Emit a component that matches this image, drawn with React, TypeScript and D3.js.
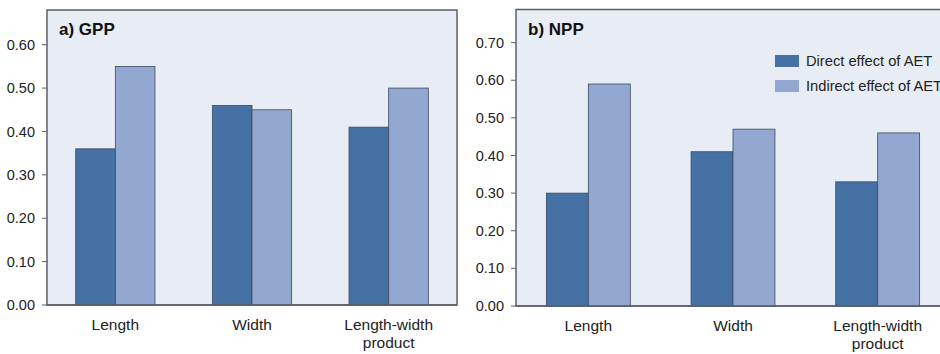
import React from "react";
import * as d3 from "d3";

const categories = ["Length", "Width", "Length-width product"];
const seriesNames = ["Direct effect of AET", "Indirect effect of AET"];
const gppDirect = [0.36, 0.46, 0.41];
const gppIndirect = [0.55, 0.45, 0.5];
const nppDirect = [0.3, 0.41, 0.33];
const nppIndirect = [0.59, 0.47, 0.46];
const gppTicks = [0, 0.1, 0.2, 0.3, 0.4, 0.5, 0.6];
const nppTicks = [0, 0.1, 0.2, 0.3, 0.4, 0.5, 0.6, 0.7];

const COLORS = ["#4571a5", "#93a8d0"];
const BG = "#e8ecf4";
const FRAME = "#5c5f66";
const FONT = "'Liberation Sans', Arial, Helvetica, sans-serif";
const TEXT = "#222";

type PanelProps = {
  title: string;
  direct: number[];
  indirect: number[];
  ticks: number[];
  yMax: number;
  left: number;
  right: number;
  top: number;
  bottom: number;
  legend?: boolean;
};

function Panel({ title, direct, indirect, ticks, yMax, left, right, top, bottom, legend }: PanelProps) {
  const x = d3.scaleBand<string>().domain(categories).range([left, right]).paddingInner(0.42).paddingOuter(0.21);
  const xs = d3.scaleBand<number>().domain([0, 1]).range([0, x.bandwidth()]);
  const y = d3.scaleLinear().domain([0, yMax]).range([bottom, top]);
  const series = [direct, indirect];
  return (
    <g>
      <rect x={left} y={top} width={right - left} height={bottom - top} fill={BG} stroke={FRAME} strokeWidth={1.5} />
      {ticks.map((t) => (
        <g key={t}>
          <line x1={left - 5} x2={left} y1={y(t)} y2={y(t)} stroke={FRAME} strokeWidth={1} />
          <text x={left - 12} y={y(t)} dy="0.35em" textAnchor="end" fontSize={14.5} fill={TEXT}>
            {d3.format(".2f")(t)}
          </text>
        </g>
      ))}
      {categories.map((c, i) =>
        series.map((s, k) => (
          <rect
            key={c + k}
            x={(x(c) as number) + (xs(k) as number)}
            y={y(s[i])}
            width={xs.bandwidth()}
            height={bottom - y(s[i])}
            fill={COLORS[k]}
            stroke="#3d4b60"
            strokeWidth={0.8}
          />
        ))
      )}
      <line x1={left} x2={right} y1={bottom} y2={bottom} stroke={FRAME} strokeWidth={1.5} />
      {categories.map((c) => {
        const cx = (x(c) as number) + x.bandwidth() / 2;
        const lines = c === "Length-width product" ? ["Length-width", "product"] : [c];
        return (
          <text key={c} x={cx} y={bottom + 25} textAnchor="middle" fontSize={15.5} fill={TEXT}>
            {lines.map((l, j) => (
              <tspan key={l} x={cx} dy={j === 0 ? 0 : 18}>
                {l}
              </tspan>
            ))}
          </text>
        );
      })}
      <text x={left + 12} y={top + 25} fontSize={17} fontWeight="bold" fill="#111">
        {title}
      </text>
      {legend &&
        seriesNames.map((n, k) => (
          <g key={n} transform={`translate(775,${55 + k * 25})`}>
            <rect width={24} height={12} fill={COLORS[k]} />
            <text x={31} y={6} dy="0.35em" fontSize={14.7} fill={TEXT}>
              {n}
            </text>
          </g>
        ))}
    </g>
  );
}

export default function App() {
  return (
    <svg
      width={940}
      height={354}
      style={{ position: "absolute", left: 0, top: 0, background: "#fff", fontFamily: FONT }}
    >
      <Panel
        title="a) GPP"
        direct={gppDirect}
        indirect={gppIndirect}
        ticks={gppTicks}
        yMax={0.68}
        left={47}
        right={457}
        top={10}
        bottom={305}
      />
      <Panel
        title="b) NPP"
        direct={nppDirect}
        indirect={nppIndirect}
        ticks={nppTicks}
        yMax={0.788}
        left={516}
        right={950}
        top={9.5}
        bottom={306}
        legend
      />
    </svg>
  );
}
